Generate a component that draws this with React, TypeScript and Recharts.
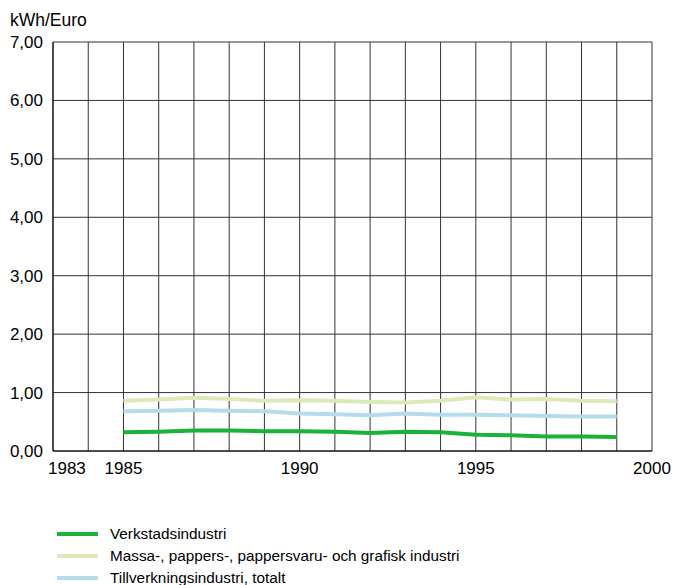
import React from 'react'
import { LineChart, Line, XAxis, YAxis, CartesianGrid } from 'recharts'

const years = [1985, 1986, 1987, 1988, 1989, 1990, 1991, 1992, 1993, 1994, 1995, 1996, 1997, 1998, 1999]
const verkstad = [0.32, 0.33, 0.35, 0.35, 0.34, 0.34, 0.33, 0.31, 0.33, 0.32, 0.28, 0.27, 0.25, 0.25, 0.24]
const massa = [0.86, 0.88, 0.91, 0.89, 0.86, 0.87, 0.86, 0.84, 0.83, 0.86, 0.92, 0.88, 0.89, 0.86, 0.85]
const tillverk = [0.68, 0.69, 0.70, 0.69, 0.68, 0.64, 0.63, 0.61, 0.64, 0.62, 0.62, 0.61, 0.60, 0.59, 0.59]

const xTicks = [1983, 1984, 1985, 1986, 1987, 1988, 1989, 1990, 1991, 1992, 1993, 1994, 1995, 1996, 1997, 1998, 1999, 2000]
const xLabels = [1983, 1985, 1990, 1995, 2000]
const yTicks = [0, 1, 2, 3, 4, 5, 6, 7]

const series = [
  { key: 'verkstad', name: 'Verkstadsindustri', color: '#1bb23a' },
  { key: 'massa', name: 'Massa-, pappers-, pappersvaru- och grafisk industri', color: '#dce9b9' },
  { key: 'tillverk', name: 'Tillverkningsindustri, totalt', color: '#b5dcea' },
]

const data = years.map((y, i) => ({ year: y, verkstad: verkstad[i], massa: massa[i], tillverk: tillverk[i] }))

const FONT = '"Liberation Sans", Arial, sans-serif'

function XTick({ x, y, payload }: any) {
  const v = payload.value
  if (!xLabels.includes(v)) return null
  let anchor = 'middle'
  let dx = 0
  if (v === 1983) { anchor = 'start'; dx = -5 }
  return (
    <text x={x + dx} y={y} dy={15} textAnchor={anchor} fontSize={17} fill="#000" fontFamily={FONT}>
      {v}
    </text>
  )
}

export default function App() {
  return (
    <div style={{ position: 'relative', width: 675, height: 585, overflow: 'hidden', fontFamily: FONT }}>
      <style>{'html, body { margin: 0; overflow: hidden; }'}</style>
      <div style={{ position: 'absolute', left: 10, top: 11, fontSize: 17.5, lineHeight: '18px' }}>kWh/Euro</div>
      <LineChart width={675} height={585} data={data} margin={{ top: 42, right: 23, bottom: 104, left: 8 }}>
        <CartesianGrid stroke="#333" strokeOpacity={1} />
        <XAxis
          dataKey="year"
          type="number"
          domain={[1983, 2000]}
          ticks={xTicks}
          interval={0}
          tick={<XTick />}
          tickLine={false}
          axisLine={{ stroke: '#000' }}
          height={30}
        />
        <YAxis
          domain={[0, 7]}
          ticks={yTicks}
          interval={0}
          width={45}
          tickLine={false}
          axisLine={{ stroke: '#000' }}
          tickSize={8}
          tickFormatter={(v: number) => v.toFixed(2).replace('.', ',')}
          tick={{ fontSize: 17, fill: '#000', fontFamily: FONT }}
        />
        {series.map(s => (
          <Line
            key={s.key}
            dataKey={s.key}
            name={s.name}
            type="linear"
            stroke={s.color}
            strokeWidth={4}
            dot={false}
            isAnimationActive={false}
          />
        ))}
      </LineChart>
      <div style={{ position: 'absolute', left: 57, top: 523, fontSize: 15.3, color: '#000' }}>
        {series.map(s => (
          <div key={s.key} style={{ display: 'flex', alignItems: 'center', height: 22 }}>
            <span style={{ width: 41, height: 4, background: s.color, marginRight: 12, display: 'inline-block' }} />
            <span>{s.name}</span>
          </div>
        ))}
      </div>
    </div>
  )
}
